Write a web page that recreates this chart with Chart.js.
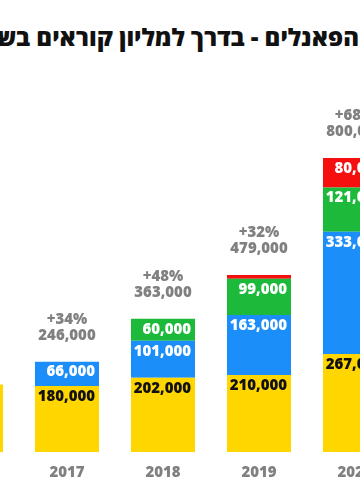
<!DOCTYPE html>
<html lang="he">
<head>
<meta charset="utf-8">
<script src="https://cdn.jsdelivr.net/npm/chart.js@4.4.0/dist/chart.umd.min.js"></script>
<style>
  html, body { margin: 0; padding: 0; width: 360px; height: 490px; overflow: hidden; background: #fff; }
  #title {
    position: absolute; top: 20px; right: 1px;
    direction: rtl; white-space: nowrap;
    font: 800 24px "Open Sans", "Liberation Sans", "DejaVu Sans", sans-serif;
    color: #111;
  }
  #wrap { position: absolute; left: -77px; top: 0; width: 480px; height: 494px; }
</style>
</head>
<body>
<div id="title">הפאנלים - בדרך למליון קוראים בשנה</div>
<div id="wrap"><canvas id="chart"></canvas></div>
<script>
const years = ["2016", "2017", "2018", "2019", "2020"];
const yellowValues = [184000, 180000, 202000, 210000, 267000];
const blueValues = [0, 66000, 101000, 163000, 333000];
const greenValues = [0, 0, 60000, 99000, 121000];
const redValues = [0, 0, 0, 10000, 80000];
const totalLabels = [null, "246,000", "363,000", "479,000", "800,000"];
const growthLabels = [null, "+34%", "+48%", "+32%", "+68%"];

const fontFamily = '"Open Sans", "Liberation Sans", sans-serif';
const grey = "#808080";

function fmt(v) {
  return v.toLocaleString("en-US");
}

// labels inside the segments + totals above each bar
const barLabels = {
  id: "barLabels",
  afterDatasetsDraw(chart) {
    const ctx = chart.ctx;
    ctx.save();
    ctx.font = "800 15px " + fontFamily;
    ctx.textBaseline = "middle";
    ctx.textAlign = "right";
    chart.data.datasets.forEach((ds, di) => {
      const meta = chart.getDatasetMeta(di);
      meta.data.forEach((bar, i) => {
        const v = ds.data[i];
        if (!v || v < 20000) return;
        ctx.fillStyle = ds.labelColor;
        ctx.fillText(fmt(v), bar.x + bar.width / 2 - 4, bar.y + 10.5);
      });
    });

    ctx.textAlign = "center";
    ctx.fillStyle = grey;
    years.forEach((y, i) => {
      if (!totalLabels[i]) return;
      let top = Infinity;
      let x = 0;
      chart.data.datasets.forEach((ds, di) => {
        const bar = chart.getDatasetMeta(di).data[i];
        if (ds.data[i] > 0 && bar.y < top) {
          top = bar.y;
          x = bar.x;
        }
      });
      ctx.fillText(totalLabels[i], x, top - 26);
      ctx.fillText(growthLabels[i], x, top - 42);
    });
    ctx.restore();
  }
};

new Chart(document.getElementById("chart"), {
  type: "bar",
  data: {
    labels: years,
    datasets: [
      { label: "yellow", data: yellowValues, backgroundColor: "#FFD600", labelColor: "#111" },
      { label: "blue", data: blueValues, backgroundColor: "#1C8EF9", labelColor: "#fff" },
      { label: "green", data: greenValues, backgroundColor: "#1DB93B", labelColor: "#fff" },
      { label: "red", data: redValues, backgroundColor: "#F50F0F", labelColor: "#fff" }
    ]
  },
  options: {
    responsive: true,
    maintainAspectRatio: false,
    animation: false,
    layout: { padding: { top: 85, left: 0, right: 0, bottom: 0 } },
    plugins: {
      legend: { display: false },
      tooltip: { enabled: false }
    },
    datasets: {
      bar: { barPercentage: 1, categoryPercentage: 0.667, borderWidth: 0 }
    },
    scales: {
      x: {
        stacked: true,
        grid: { display: false, drawTicks: false },
        border: { display: false },
        ticks: {
          padding: 12,
          color: grey,
          font: { family: fontFamily, size: 15, weight: "800" }
        }
      },
      y: {
        stacked: true,
        display: false,
        min: 0,
        max: 1000000
      }
    }
  },
  plugins: [barLabels]
});
</script>
</body>
</html>
